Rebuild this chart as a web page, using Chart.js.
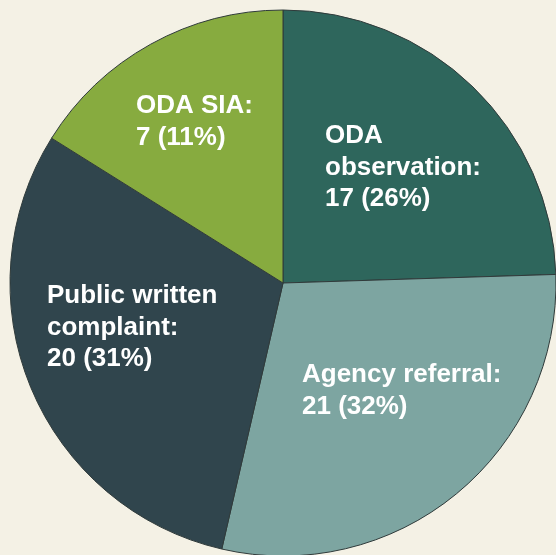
<!DOCTYPE html>
<html lang="en">
<head>
    <meta charset="UTF-8">
    <title>Complaint sources</title>
    <script src="https://cdn.jsdelivr.net/npm/chart.js"></script>
    <style>
        html, body { margin: 0; padding: 0; background: #f4f1e5; overflow: hidden; width: 556px; height: 555px; }
        .contenedor { position: absolute; left: 0; top: 0; width: 566px; height: 566px; }
    </style>
</head>
<body>
    <div class="contenedor"><canvas id="grafico"></canvas></div>

    <script>
        // categories, clockwise from 12 o'clock
        const categorias = [['ODA', 'observation:'], ['Agency referral:'], ['Public written', 'complaint:'], ['ODA SIA:']];
        const cuentas = [17, 21, 20, 7];
        // share of the circle each slice takes in the reference drawing (%)
        // (the original slices are not drawn exactly in proportion to the counts)
        const porcion = [24.5, 29.1, 30.3, 16.1];
        const colores = ['#2e665c', '#7da5a1', '#30454d', '#87ab3f'];

        // label block placement: left edge and first baseline, offset from pie centre (px)
        const posEtiqueta = [[42, -140], [19, 99], [-236, 20], [-147, -170]];

        const total = cuentas.reduce((a, b) => a + b, 0);

        const etiquetas = {
            id: 'etiquetas',
            afterDatasetsDraw(chart) {
                const ctx = chart.ctx;
                const arcos = chart.getDatasetMeta(0).data;
                ctx.save();
                ctx.fillStyle = '#ffffff';
                ctx.font = 'bold 26px "Liberation Sans", Arial, sans-serif';
                ctx.textAlign = 'left';
                ctx.textBaseline = 'alphabetic';
                arcos.forEach((arco, i) => {
                    const lineas = categorias[i].concat([cuentas[i] + ' (' + Math.round(cuentas[i] / total * 100) + '%)']);
                    const x = arco.x + posEtiqueta[i][0];
                    let y = arco.y + posEtiqueta[i][1];
                    lineas.forEach(l => { ctx.fillText(l, x, y); y += 31.5; });
                });
                ctx.restore();
            }
        };

        let ctx = document.getElementById('grafico').getContext('2d');
        let chart = new Chart(ctx, {
            type: 'pie',
            data: {
                labels: categorias,
                datasets: [{ data: porcion, backgroundColor: colores, borderColor: '#2f3a3a', borderWidth: 1 }]
            },
            options: {
                responsive: true,
                maintainAspectRatio: false,
                animation: false,
                layout: { padding: 9.5 },
                plugins: { legend: { display: false }, tooltip: { enabled: false } }
            },
            plugins: [etiquetas]
        });
    </script>
</body>
</html>
